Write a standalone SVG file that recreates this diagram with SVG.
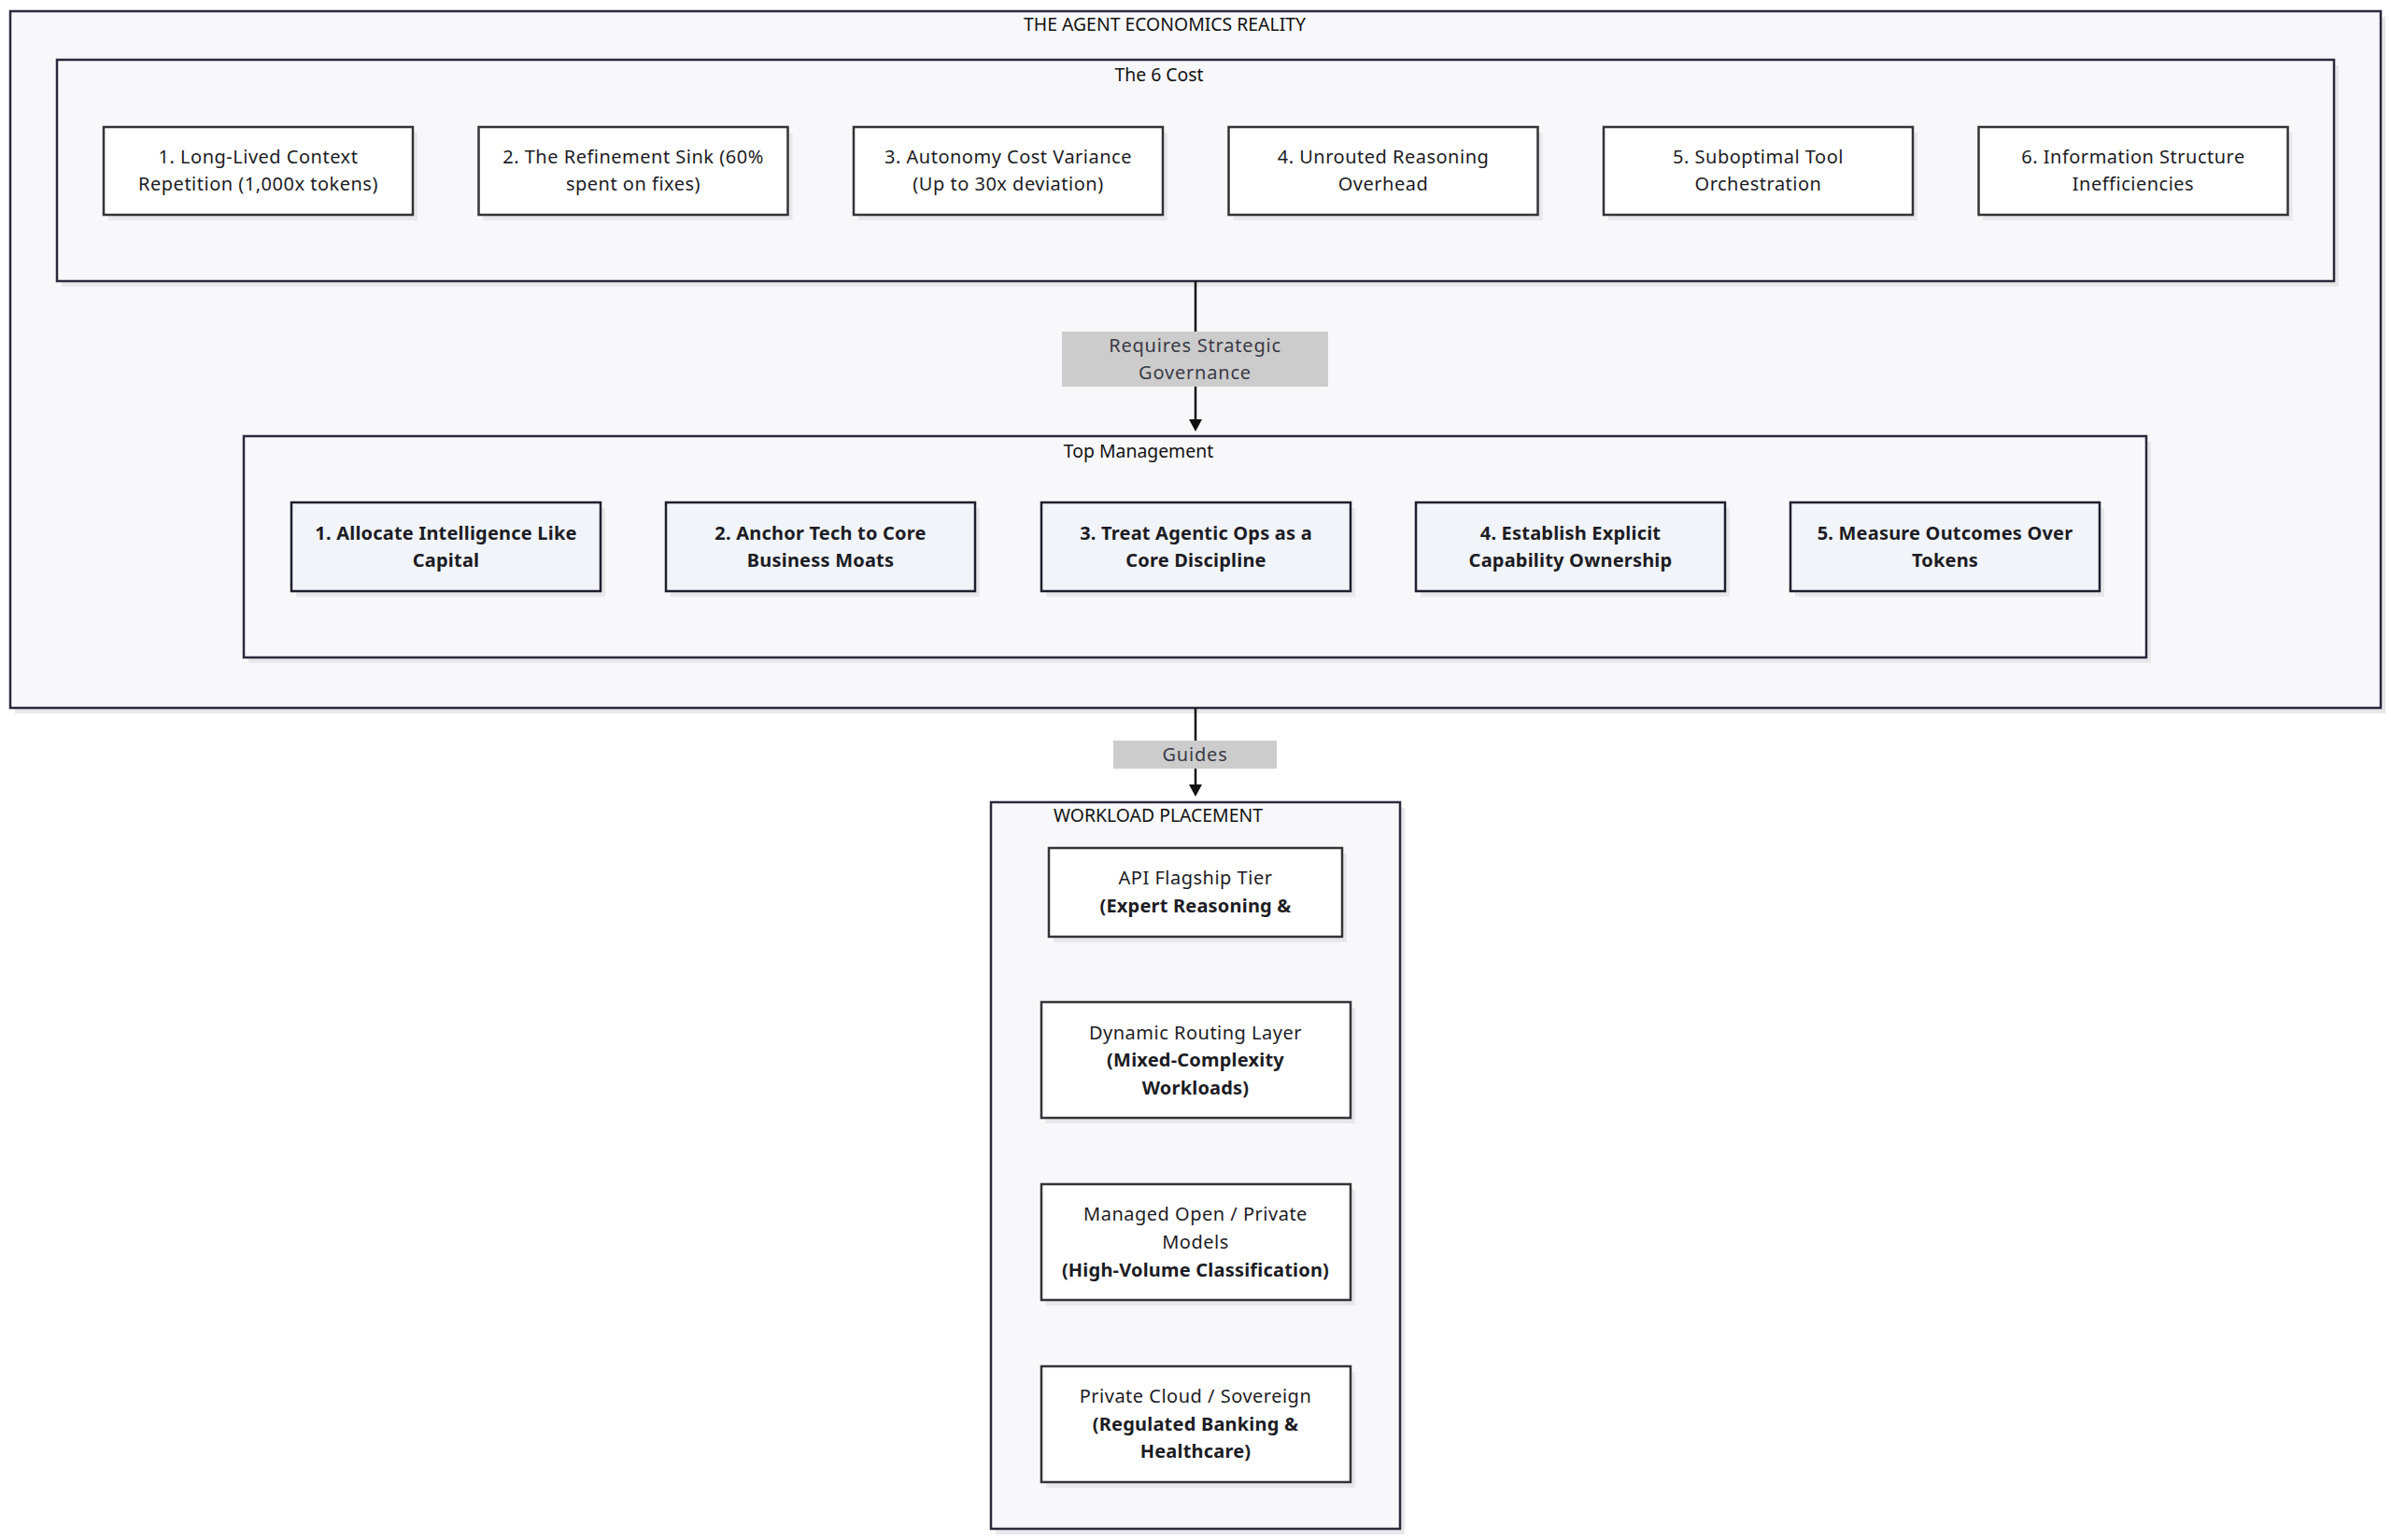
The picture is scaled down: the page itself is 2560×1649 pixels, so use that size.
<svg xmlns="http://www.w3.org/2000/svg" width="2560" height="1649" viewBox="0 0 2560 1649">
<style>
text{font-family:"Noto Sans","DejaVu Sans",sans-serif;font-size:20px;letter-spacing:0.5px;text-anchor:middle;fill:#1c1c24}
.shadow{fill:#e8e8eb}
.cluster{fill:#f8f8fa;stroke:#2a2a3c;stroke-width:2.5}
.cnode{fill:#ffffff;stroke:#333338;stroke-width:2.5}
.mnode{fill:#f1f4f9;stroke:#1f1f2e;stroke-width:2.5}
.title{font-size:19.4px;letter-spacing:0;fill:#111}
.b{font-weight:700;letter-spacing:0.2px}
.lbl{fill:#cccccc}
.lt{fill:#3a3a44;letter-spacing:0.8px}
.edge{stroke:#111;stroke-width:2.5;fill:none}
</style>
<rect width="2560" height="1649" fill="#ffffff"/>

<g id="cluster-reality">
<rect class="shadow" x="16" y="18" width="2538" height="746"/>
<rect class="cluster" x="11" y="12" width="2538" height="746"/>
<text class="title" x="1247" y="33">THE AGENT ECONOMICS REALITY</text>
</g>

<g id="cluster-cost">
<rect class="shadow" x="66" y="70" width="2438" height="237"/>
<rect class="cluster" x="61" y="64" width="2438" height="237"/>
<text class="title" x="1241" y="87">The 6 Cost</text>
</g>

<g id="cost1">
<rect class="shadow" x="116" y="142" width="331" height="94"/>
<rect class="cnode" x="111" y="136" width="331" height="94"/>
<text x="276.5" y="175">1. Long-Lived Context</text>
<text x="276.5" y="204">Repetition (1,000x tokens)</text>
</g>
<g id="cost2">
<rect class="shadow" x="517.5" y="142" width="331" height="94"/>
<rect class="cnode" x="512.5" y="136" width="331" height="94"/>
<text x="678" y="175">2. The Refinement Sink (60%</text>
<text x="678" y="204">spent on fixes)</text>
</g>
<g id="cost3">
<rect class="shadow" x="919" y="142" width="331" height="94"/>
<rect class="cnode" x="914" y="136" width="331" height="94"/>
<text x="1079.5" y="175">3. Autonomy Cost Variance</text>
<text x="1079.5" y="204">(Up to 30x deviation)</text>
</g>
<g id="cost4">
<rect class="shadow" x="1320.5" y="142" width="331" height="94"/>
<rect class="cnode" x="1315.5" y="136" width="331" height="94"/>
<text x="1481" y="175">4. Unrouted Reasoning</text>
<text x="1481" y="204">Overhead</text>
</g>
<g id="cost5">
<rect class="shadow" x="1722" y="142" width="331" height="94"/>
<rect class="cnode" x="1717" y="136" width="331" height="94"/>
<text x="1882.5" y="175">5. Suboptimal Tool</text>
<text x="1882.5" y="204">Orchestration</text>
</g>
<g id="cost6">
<rect class="shadow" x="2123.5" y="142" width="331" height="94"/>
<rect class="cnode" x="2118.5" y="136" width="331" height="94"/>
<text x="2284" y="175">6. Information Structure</text>
<text x="2284" y="204">Inefficiencies</text>
</g>

<g id="cluster-mgmt">
<rect class="shadow" x="266" y="473" width="2037" height="237"/>
<rect class="cluster" x="261" y="467" width="2037" height="237"/>
<text class="title" x="1219" y="490">Top Management</text>
</g>

<g id="mgmt1">
<rect class="shadow" x="317" y="544" width="331" height="95"/>
<rect class="mnode" x="312" y="538" width="331" height="95"/>
<text class="b" x="477.5" y="578">1. Allocate Intelligence Like</text>
<text class="b" x="477.5" y="607">Capital</text>
</g>
<g id="mgmt2">
<rect class="shadow" x="718" y="544" width="331" height="95"/>
<rect class="mnode" x="713" y="538" width="331" height="95"/>
<text class="b" x="878.5" y="578">2. Anchor Tech to Core</text>
<text class="b" x="878.5" y="607">Business Moats</text>
</g>
<g id="mgmt3">
<rect class="shadow" x="1120" y="544" width="331" height="95"/>
<rect class="mnode" x="1115" y="538" width="331" height="95"/>
<text class="b" x="1280.5" y="578">3. Treat Agentic Ops as a</text>
<text class="b" x="1280.5" y="607">Core Discipline</text>
</g>
<g id="mgmt4">
<rect class="shadow" x="1521" y="544" width="331" height="95"/>
<rect class="mnode" x="1516" y="538" width="331" height="95"/>
<text class="b" x="1681.5" y="578">4. Establish Explicit</text>
<text class="b" x="1681.5" y="607">Capability Ownership</text>
</g>
<g id="mgmt5">
<rect class="shadow" x="1922" y="544" width="331" height="95"/>
<rect class="mnode" x="1917" y="538" width="331" height="95"/>
<text class="b" x="2082.5" y="578">5. Measure Outcomes Over</text>
<text class="b" x="2082.5" y="607">Tokens</text>
</g>

<g id="cluster-workload">
<rect class="shadow" x="1066" y="865" width="438" height="778"/>
<rect class="cluster" x="1061" y="859" width="438" height="778"/>
<text class="title" x="1240" y="880">WORKLOAD PLACEMENT</text>
</g>

<g id="wl-api">
<rect class="shadow" x="1128" y="914" width="314" height="95"/>
<rect class="cnode" x="1123" y="908" width="314" height="95"/>
<text x="1280" y="947">API Flagship Tier</text>
<text class="b" x="1280" y="977">(Expert Reasoning &amp;</text>
</g>
<g id="wl-routing">
<rect class="shadow" x="1120" y="1079" width="331" height="124"/>
<rect class="cnode" x="1115" y="1073" width="331" height="124"/>
<text x="1280" y="1113">Dynamic Routing Layer</text>
<text class="b" x="1280" y="1142">(Mixed-Complexity</text>
<text class="b" x="1280" y="1172">Workloads)</text>
</g>
<g id="wl-managed">
<rect class="shadow" x="1120" y="1274" width="331" height="124"/>
<rect class="cnode" x="1115" y="1268" width="331" height="124"/>
<text x="1280" y="1307">Managed Open / Private</text>
<text x="1280" y="1337">Models</text>
<text class="b" x="1280" y="1367">(High-Volume Classification)</text>
</g>
<g id="wl-private">
<rect class="shadow" x="1120" y="1469" width="331" height="124"/>
<rect class="cnode" x="1115" y="1463" width="331" height="124"/>
<text x="1280" y="1502">Private Cloud / Sovereign</text>
<text class="b" x="1280" y="1532">(Regulated Banking &amp;</text>
<text class="b" x="1280" y="1561">Healthcare)</text>
</g>

<g id="connectors">
<line class="edge" x1="1280" y1="301" x2="1280" y2="450"/>
<polygon points="1273,449 1287,449 1280,462" fill="#111"/>
<rect class="lbl" x="1137" y="355" width="285" height="59"/>
<text class="lt" x="1279.5" y="377">Requires Strategic</text>
<text class="lt" x="1279.5" y="406">Governance</text>

<line class="edge" x1="1280" y1="758" x2="1280" y2="841"/>
<polygon points="1273,840 1287,840 1280,853" fill="#111"/>
<rect class="lbl" x="1192" y="793" width="175" height="30"/>
<text class="lt" x="1279.5" y="815">Guides</text>
</g>
</svg>
